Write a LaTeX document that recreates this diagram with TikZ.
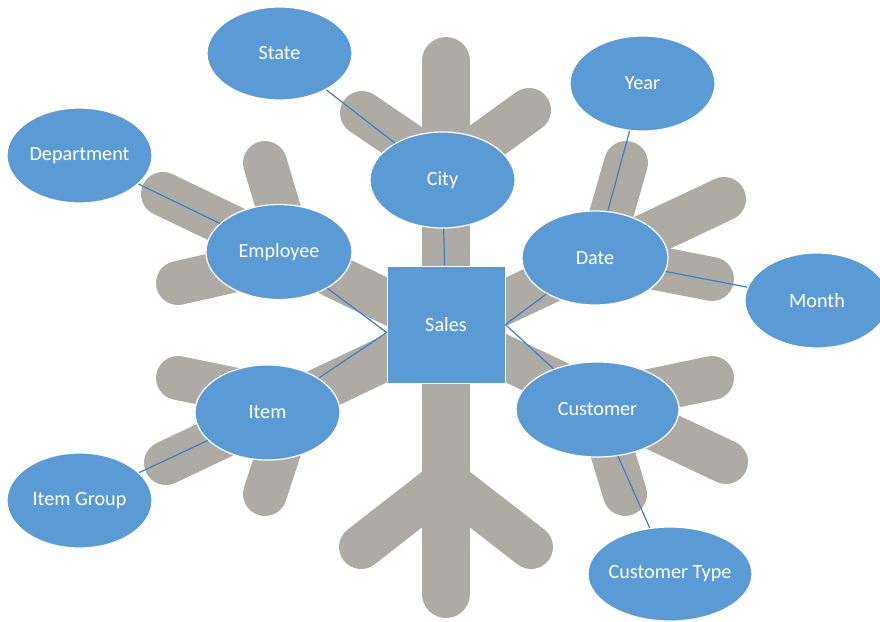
\documentclass[tikz,border=0pt]{standalone}
\usepackage{fontspec}
\setmainfont{Carlito}
\usepackage{xcolor}
\usetikzlibrary{shapes.geometric}
\definecolor{snowgray}{RGB}{173,171,163}
\definecolor{dimblue}{RGB}{91,155,213}
\definecolor{linkblue}{RGB}{66,126,196}

\begin{document}
\begin{tikzpicture}[x=1pt,y=-1pt,
  arm/.style={snowgray,line width=44pt,line cap=round},
  trunk/.style={snowgray,line width=48pt,line cap=round},
  dim/.style={ellipse,fill=dimblue,draw=white,line width=1.2pt,text=white,inner sep=0pt,font=\fontsize{20.2}{23}\selectfont},
  fact/.style={rectangle,fill=dimblue,draw=white,line width=0.8pt,text=white,inner sep=0pt,minimum width=118pt,minimum height=117pt,font=\fontsize{20.2}{23}\selectfont},
  link/.style={linkblue,line width=1.2pt}]
\useasboundingbox (0,0) rectangle (880,621);
\clip (0,0) rectangle (880,621);

\draw[trunk] (446,61) -- (446,594);
\draw[arm] (446,170) -- (362,113);
\draw[arm] (446,170) -- (529,110);
\draw[arm] (446,481) -- (361,547);
\draw[arm] (446,481) -- (531,547);
\draw[arm] (446,330) -- (163,194);
\draw[arm] (293,257) -- (265,163);
\draw[arm] (293,257) -- (178,283);
\draw[arm] (446,330) -- (724,199);
\draw[arm] (599,257) -- (626,163);
\draw[arm] (599,257) -- (712,279);
\draw[arm] (446,330) -- (166,463);
\draw[arm] (295,402) -- (178,378);
\draw[arm] (295,402) -- (265,494);
\draw[arm] (446,330) -- (726,462);
\draw[arm] (597,402) -- (712,378);
\draw[arm] (597,402) -- (625,494);

\node[fact] (sales) at (446,324.5) {Sales};
\node[dim,minimum width=145pt,minimum height=93pt] (state) at (279.5,53.5) {State};
\node[dim,minimum width=145pt,minimum height=95pt] (dept) at (79.5,155.5) {Department};
\node[dim,minimum width=146pt,minimum height=95pt] (emp) at (279,252) {Employee};
\node[dim,minimum width=145pt,minimum height=96pt] (city) at (442.5,180) {City};
\node[dim,minimum width=145pt,minimum height=95pt] (year) at (642.5,83.5) {Year};
\node[dim,minimum width=146pt,minimum height=94pt] (date) at (595,258) {Date};
\node[dim,minimum width=144pt,minimum height=95pt] (month) at (817,300.5) {Month};
\node[dim,minimum width=145pt,minimum height=95pt] (item) at (267.5,412.5) {Item};
\node[dim,minimum width=145pt,minimum height=95pt] (igroup) at (79.5,500.5) {Item Group};
\node[dim,minimum width=163pt,minimum height=95pt] (cust) at (597.5,409.5) {Customer};
\node[dim,minimum width=164pt,minimum height=94pt] (ctype) at (670,574) {\makebox[0pt]{Customer Type}};

\draw[link] (state) -- (city);
\draw[link] (dept) -- (emp);
\draw[link] (city) -- (sales);
\draw[link] (year) -- (date);
\draw[link] (date) -- (month);
\draw[link] (emp) -- ([yshift=-8pt]sales.west);
\draw[link] (item) -- ([yshift=-8pt]sales.west);
\draw[link] (date) -- (sales.east);
\draw[link] (cust) -- (sales.east);
\draw[link] (cust) -- (ctype);
\draw[link] (item) -- (igroup);
\end{tikzpicture}
\end{document}
